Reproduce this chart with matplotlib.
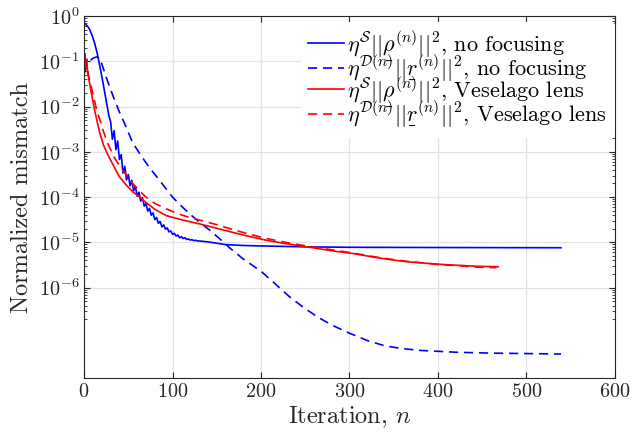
import matplotlib
matplotlib.use("Agg")
import matplotlib.pyplot as plt
from matplotlib.ticker import FixedLocator, NullFormatter
import numpy as np

plt.rcParams['font.family'] = 'serif'
plt.rcParams['font.serif'] = ['cmr10']
plt.rcParams['mathtext.fontset'] = 'cm'
plt.rcParams['axes.formatter.use_mathtext'] = True

# values, y given as log10
n_rho_nofoc = [0, 3, 6, 9, 12, 15, 18, 21, 24, 27, 28,
               30, 32, 34, 36, 38, 40, 42, 44, 46, 48, 50, 52, 54, 56, 58, 60,
               62, 64, 66, 68, 70, 72, 74, 76, 78, 80, 82, 84, 86, 88, 90,
               92, 94, 96, 98, 100, 102, 104, 106, 108, 110, 112, 114, 116, 118, 120,
               122, 124, 126, 128, 130,
               140, 150, 160, 180, 200, 250, 300, 400, 539]
log_rho_nofoc = [-0.15, -0.2, -0.28, -0.42, -0.6, -0.83, -1.12, -1.43, -1.76, -2.08, -2.2,
                 -2.33, -2.72, -2.53, -2.95, -2.76, -3.17, -3.06, -3.47, -3.32, -3.62, -3.50, -3.75, -3.63, -3.86, -3.76, -3.98,
                 -3.89, -4.09, -4.01, -4.20, -4.14, -4.31, -4.25, -4.40, -4.35, -4.50, -4.45, -4.58, -4.54, -4.66, -4.615,
                 -4.71, -4.68, -4.77, -4.745, -4.825, -4.80, -4.86, -4.84, -4.90, -4.875, -4.915, -4.898, -4.937, -4.925, -4.95,
                 -4.942, -4.963, -4.954, -4.97, -4.97,
                 -4.99, -5.02, -5.05, -5.07, -5.08, -5.10, -5.11, -5.115, -5.12]

n_r_nofoc = [0, 3, 6, 10, 14, 17, 20, 25, 30, 35, 40, 46, 55, 63, 70, 78, 85, 92, 100,
             110, 120, 130, 142, 155, 165, 180, 200, 215, 232, 248, 263, 280, 300, 320,
             340, 360, 380, 420, 460, 500, 539]
log_r_nofoc = [-1.27, -1.1, -1.0, -0.93, -0.9, -0.92, -1.05, -1.35, -1.62, -1.88, -2.12, -2.38, -2.8, -3.04, -3.24, -3.45, -3.62, -3.8, -4.0,
               -4.2, -4.38, -4.55, -4.73, -4.95, -5.13, -5.37, -5.64, -5.9, -6.2, -6.44, -6.64, -6.83, -7.01, -7.17,
               -7.29, -7.35, -7.39, -7.43, -7.45, -7.46, -7.47]

n_rho_lens = [0, 1, 2, 3, 4, 6, 9, 12, 15, 18, 22, 26, 30, 35, 40, 47, 55, 63, 70, 80, 93,
              112, 130, 150, 170, 187, 205, 225, 245, 265, 285, 305, 325, 345, 365, 385,
              405, 425, 445, 468]
log_rho_lens = [-1.0, -0.83, -1.1, -0.95, -1.25, -1.45, -1.78, -2.08, -2.35, -2.6, -2.85, -3.03, -3.18, -3.37, -3.55, -3.72, -3.88, -4.0, -4.12, -4.27, -4.41,
                -4.51, -4.59, -4.69, -4.79, -4.87, -4.95, -5.02, -5.08, -5.14, -5.2, -5.25, -5.32, -5.38, -5.43, -5.46,
                -5.49, -5.51, -5.53, -5.54]

n_r_lens = [0, 1, 2, 3, 5, 8, 11, 14, 18, 22, 26, 30, 35, 40, 48, 55, 63, 70, 80, 93,
            105, 116, 131, 150, 170, 187, 205, 225, 245, 265, 285, 305, 325, 345, 365,
            385, 405, 425, 445, 466]
log_r_lens = [-0.95, -0.85, -1.15, -1.05, -1.3, -1.55, -1.8, -2.05, -2.3, -2.55, -2.78, -2.95, -3.15, -3.3, -3.52, -3.7, -3.87, -4.0, -4.14, -4.26,
              -4.36, -4.43, -4.51, -4.61, -4.73, -4.82, -4.91, -4.99, -5.06, -5.12, -5.18, -5.24, -5.31, -5.37, -5.42,
              -5.46, -5.5, -5.52, -5.55, -5.56]

# mathtext has no \underline, so a small bar is set under the symbol
labels = [r"$\eta^{\mathcal{S}}||\underset{\_}{\rho}^{(n)}||^2$, no focusing",
          r"$\eta^{\mathcal{D}(n)}||\underset{\_}{r}^{(n)}||^2$, no focusing",
          r"$\eta^{\mathcal{S}}||\underset{\_}{\rho}^{(n)}||^2$, Veselago lens",
          r"$\eta^{\mathcal{D}(n)}||\underset{\_}{r}^{(n)}||^2$, Veselago lens"]

fig = plt.figure(figsize=(6.32, 4.38), dpi=100)
ax = fig.add_axes([0.133, 0.137, 0.84, 0.826])

lw = 1.2
dash = (5.5, 3.5)
ax.plot(n_rho_nofoc, 10 ** np.array(log_rho_nofoc), color="#0000ff", lw=lw, label=labels[0])
ax.plot(n_r_nofoc, 10 ** np.array(log_r_nofoc), color="#0000ff", lw=lw, dashes=dash, label=labels[1])
ax.plot(n_rho_lens, 10 ** np.array(log_rho_lens), color="#ff0000", lw=lw, label=labels[2])
ax.plot(n_r_lens, 10 ** np.array(log_r_lens), color="#ff0000", lw=lw, dashes=dash, label=labels[3])

ax.set_yscale("log")
ax.set_xlim(0, 600)
ax.set_ylim(1e-8, 1)
ax.set_xticks([0, 100, 200, 300, 400, 500, 600])
ax.set_yticks([1e-6, 1e-5, 1e-4, 1e-3, 1e-2, 1e-1, 1])
minors = [m * 10.0 ** k for k in range(-7, 0) for m in range(2, 10)]
ax.yaxis.set_minor_locator(FixedLocator(minors))
ax.yaxis.set_minor_formatter(NullFormatter())

ax.grid(True, which="major", color="#e3e3e3", lw=0.9)
ax.set_axisbelow(True)
ax.tick_params(which="both", direction="in", top=True, right=True, labelsize=14.5, colors="#262626")
ax.tick_params(which="major", length=4)
ax.tick_params(which="minor", length=2.5)
for s in ax.spines.values():
    s.set_color("#262626")
    s.set_linewidth(0.8)

ax.set_xlabel("Iteration, $n$", fontsize=17.5, color="#262626", labelpad=3)
ax.set_ylabel("Normalized mismatch", fontsize=17.5, color="#262626", labelpad=4)

leg = ax.legend(loc="upper right", bbox_to_anchor=(1.0, 0.985), fontsize=16, frameon=True,
                handlelength=1.6, handletextpad=0.15, labelspacing=-0.42,
                borderaxespad=0.0, borderpad=0.35)
leg.get_frame().set_edgecolor("none")
leg.get_frame().set_facecolor("white")
leg.get_frame().set_alpha(1)

fig.savefig("out.png", dpi=100)
